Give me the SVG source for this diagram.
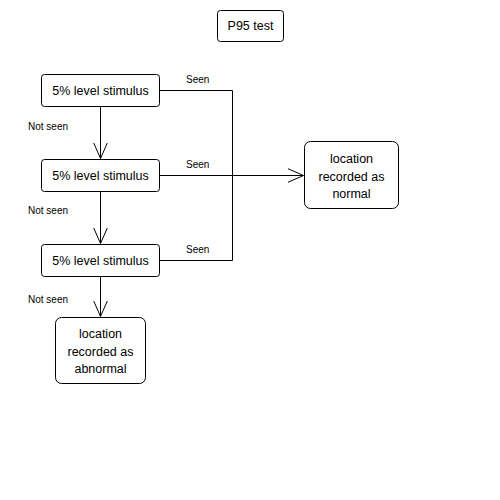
<svg xmlns="http://www.w3.org/2000/svg" width="500" height="500" viewBox="0 0 500 500">
<style>
.box{fill:#fff;stroke:#000;stroke-width:1}
.t{font-family:"Liberation Sans",Arial,sans-serif;font-size:12.5px;fill:#000;text-anchor:middle}
.l{font-family:"Liberation Sans",Arial,sans-serif;font-size:10px;fill:#000}
.c{fill:none;stroke:#000;stroke-width:1}
</style>
<defs>
<marker id="a" markerWidth="18" markerHeight="20" refX="16" refY="9" orient="auto" markerUnits="userSpaceOnUse">
<path d="M0,2 L16,9 L0,16" fill="none" stroke="#000" stroke-width="1"/>
</marker>
</defs>
<rect width="500" height="500" fill="#fff"/>
<g id="connectors">
<path class="c" d="M100.5,106 V158.5" marker-end="url(#a)"/>
<path class="c" d="M100.5,191 V243.5" marker-end="url(#a)"/>
<path class="c" d="M100.5,276 V316.5" marker-end="url(#a)"/>
<path class="c" d="M159,90.5 H232.5 V260.5 H159"/>
<path class="c" d="M159,175.5 H303.5" marker-end="url(#a)"/>
<text class="l" x="186" y="83">Seen</text>
<text class="l" x="186" y="168">Seen</text>
<text class="l" x="186" y="253">Seen</text>
<text class="l" x="28" y="130">Not seen</text>
<text class="l" x="28" y="214">Not seen</text>
<text class="l" x="28" y="303">Not seen</text>
</g>
<g id="title">
<rect class="box" x="217.5" y="10.5" width="66" height="31" rx="3"/>
<text class="t" x="250.5" y="30">P95 test</text>
</g>
<g id="s1">
<rect class="box" x="41.5" y="74.5" width="118" height="32" rx="3"/>
<text class="t" x="100.5" y="95">5% level stimulus</text>
</g>
<g id="s2">
<rect class="box" x="41.5" y="159.5" width="118" height="32" rx="3"/>
<text class="t" x="100.5" y="180">5% level stimulus</text>
</g>
<g id="s3">
<rect class="box" x="41.5" y="244.5" width="118" height="32" rx="3"/>
<text class="t" x="100.5" y="265">5% level stimulus</text>
</g>
<g id="normal">
<rect class="box" x="304.5" y="141.5" width="94" height="67" rx="6"/>
<text class="t" x="351.5" y="163">location</text>
<text class="t" x="351.5" y="181">recorded as</text>
<text class="t" x="351.5" y="198">normal</text>
</g>
<g id="abnormal">
<rect class="box" x="55.5" y="317.5" width="90" height="66" rx="6"/>
<text class="t" x="100.5" y="338">location</text>
<text class="t" x="100.5" y="356">recorded as</text>
<text class="t" x="100.5" y="373">abnormal</text>
</g>
</svg>
